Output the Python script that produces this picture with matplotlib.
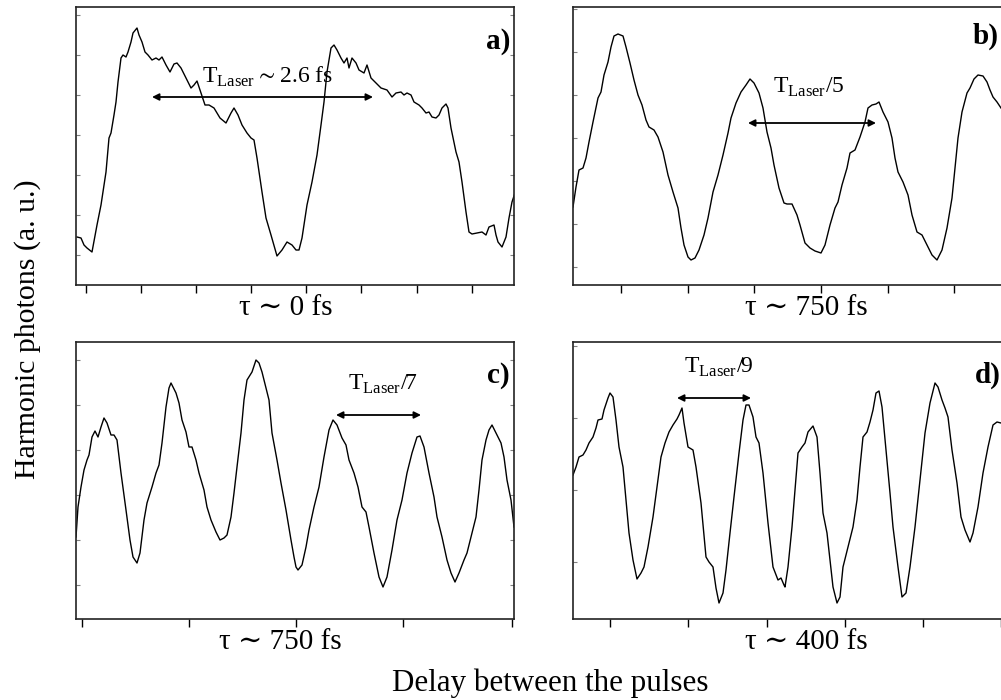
# -*- coding: utf-8 -*-
"""
Harmonic photon yield vs. delay between the pulses, four panels a)-d)
"""
import matplotlib.pyplot as plt

plt.rcParams['font.family'] = ['Liberation Serif', 'DejaVu Serif']
plt.rcParams['mathtext.fontset'] = 'custom'
plt.rcParams['mathtext.rm'] = 'Liberation Serif'
plt.rcParams['mathtext.fallback'] = 'stix'
#-----------------------------------------------------------------------------
# traces (delay in arbitrary units, signal in a. u.)

delay_a = [1, 5, 8, 11, 16, 21, 25, 30, 33, 35, 38, 40, 42, 45, 47, 50, 52, 55,
           57, 61, 63, 66, 69, 72, 76, 80, 83, 86, 90, 94, 98, 101, 105, 110,
           115, 118, 121, 124, 129, 133, 138, 144, 150, 155, 158, 162, 166, 171,
           175, 178, 181, 186, 190, 195, 201, 206, 211, 216, 220, 223, 226, 231,
           236, 241, 245, 248, 251, 255, 258, 261, 265, 268, 271, 273, 276, 280,
           283, 288, 291, 295, 305, 311, 316, 320, 325, 328, 331, 335, 338, 343,
           346, 350, 353, 356, 360, 363, 366, 370, 372, 375, 380, 383, 386, 390,
           393, 396, 401, 406, 410, 413, 418, 420, 422, 426, 430, 433, 436, 440]
signal_a = [48, 47, 40, 37, 33, 60, 80, 113, 147, 152, 170, 183, 203, 227, 230,
            228, 233, 243, 252, 257, 250, 243, 233, 230, 225, 227, 225, 228, 220,
            213, 221, 222, 217, 207, 197, 200, 204, 195, 180, 180, 177, 167, 162,
            172, 177, 170, 160, 152, 147, 145, 127, 93, 67, 50, 29, 35, 43, 40,
            35, 35, 47, 80, 103, 130, 160, 183, 213, 237, 240, 235, 227, 222, 227,
            217, 227, 222, 215, 212, 220, 207, 197, 195, 188, 192, 193, 190, 192,
            190, 183, 180, 177, 172, 173, 168, 167, 170, 177, 181, 177, 157, 133,
            123, 103, 73, 53, 51, 52, 53, 50, 58, 60, 50, 43, 38, 48, 67, 83, 95]

delay_b = [0, 3, 6, 10, 13, 16, 20, 25, 28, 31, 35, 38, 41, 45, 50, 53, 57, 61,
           65, 69, 73, 76, 81, 85, 90, 95, 100, 105, 108, 111, 115, 118, 122, 126,
           131, 135, 140, 145, 150, 155, 158, 163, 168, 173, 177, 181, 186, 190,
           194, 198, 201, 206, 211, 214, 219, 224, 227, 232, 237, 242, 248, 252,
           257, 262, 265, 269, 274, 277, 282, 287, 292, 295, 299, 303, 306, 310,
           315, 319, 322, 325, 330, 335, 339, 344, 349, 354, 359, 364, 369, 374,
           379, 382, 385, 389, 394, 397, 401, 405, 410, 414, 417, 420, 424, 428]
signal_b = [78, 98, 115, 117, 127, 143, 163, 187, 193, 210, 223, 238, 249, 251,
            249, 238, 222, 205, 190, 180, 165, 158, 155, 148, 133, 110, 93, 77, 57,
            40, 28, 25, 27, 35, 50, 67, 93, 110, 130, 152, 167, 182, 193, 200, 206,
            202, 192, 177, 153, 137, 120, 97, 82, 81, 81, 70, 60, 42, 37, 34, 32,
            40, 60, 77, 83, 100, 117, 132, 135, 148, 163, 177, 180, 181, 183, 173,
            163, 147, 127, 113, 103, 90, 70, 53, 50, 40, 30, 25, 35, 57, 87, 117,
            147, 173, 192, 197, 206, 210, 209, 203, 195, 188, 183, 177]

delay_c = [0, 2, 5, 8, 11, 13, 16, 19, 22, 25, 28, 31, 35, 38, 41, 45, 50, 54,
           57, 61, 64, 68, 71, 76, 80, 83, 86, 90, 93, 95, 100, 103, 106, 110,
           113, 116, 120, 123, 128, 131, 135, 140, 144, 148, 151, 155, 158, 161,
           165, 168, 171, 176, 180, 183, 186, 190, 193, 196, 201, 205, 210, 215,
           218, 220, 222, 226, 230, 233, 238, 243, 248, 253, 257, 261, 266, 270,
           273, 278, 282, 286, 290, 293, 298, 303, 307, 311, 316, 321, 326, 331,
           336, 341, 344, 348, 353, 358, 361, 366, 371, 375, 379, 383, 388, 391,
           396, 400, 403, 406, 410, 413, 416, 420, 425, 428, 431, 435, 438]
signal_c = [82, 112, 132, 149, 159, 164, 182, 188, 182, 192, 201, 196, 184, 184,
            179, 146, 109, 79, 62, 56, 66, 99, 116, 132, 146, 154, 176, 212, 231,
            236, 226, 216, 199, 187, 172, 172, 159, 146, 129, 112, 99, 87, 79, 81,
            84, 102, 126, 152, 186, 219, 239, 247, 259, 256, 247, 231, 219, 186,
            159, 136, 109, 79, 62, 52, 49, 54, 72, 89, 112, 132, 162, 189, 199,
            194, 181, 174, 159, 146, 132, 112, 107, 92, 66, 42, 32, 42, 69, 99,
            119, 146, 166, 182, 183, 172, 146, 122, 102, 82, 59, 46, 37, 46, 59,
            66, 86, 102, 129, 159, 179, 189, 194, 186, 176, 162, 139, 119, 92]

delay_d = [0, 3, 6, 10, 13, 16, 20, 23, 25, 29, 31, 35, 37, 40, 43, 46, 50, 53,
           56, 60, 64, 68, 71, 75, 80, 84, 88, 92, 96, 100, 104, 106, 109, 111,
           115, 120, 123, 128, 133, 136, 140, 143, 146, 150, 153, 157, 161, 166,
           170, 173, 176, 180, 183, 186, 190, 195, 200, 205, 208, 211, 212, 215,
           219, 222, 225, 229, 232, 235, 240, 244, 247, 250, 254, 257, 260, 264,
           267, 270, 275, 280, 284, 287, 290, 294, 297, 300, 303, 306, 309, 313,
           317, 320, 325, 329, 333, 337, 342, 347, 352, 357, 362, 365, 369, 372,
           375, 379, 384, 388, 392, 397, 400, 405, 410, 415, 420, 424, 428]
signal_d = [144, 152, 162, 164, 169, 176, 182, 191, 199, 200, 209, 221, 226, 222,
            199, 172, 152, 119, 86, 59, 40, 46, 52, 72, 102, 132, 162, 176, 187,
            194, 200, 204, 211, 196, 172, 169, 152, 116, 62, 57, 52, 31, 16, 26,
            49, 86, 122, 166, 199, 214, 214, 202, 182, 176, 146, 96, 52, 39, 41,
            34, 32, 52, 92, 129, 166, 172, 176, 187, 193, 182, 146, 106, 86, 59,
            32, 16, 22, 52, 72, 92, 119, 152, 182, 187, 197, 209, 226, 228, 212,
            169, 126, 92, 52, 22, 26, 52, 92, 139, 186, 216, 236, 232, 219, 211,
            202, 169, 136, 102, 89, 77, 86, 112, 146, 172, 194, 197, 196]

labels = ['a)', 'b)', 'c)', 'd)']
delays_tau = ['τ ∼ 0 fs', 'τ ∼ 750 fs', 'τ ∼ 750 fs', 'τ ∼ 400 fs']
period_text = [r'T$_\mathrm{Laser}\sim$2.6 fs', r'T$_\mathrm{Laser}$/5',
               r'T$_\mathrm{Laser}$/7', r'T$_\mathrm{Laser}$/9']
#-----------------------------------------------------------------------------

W, H = 1001, 700
fig = plt.figure(figsize=(W / 100, H / 100), dpi=100)


def box(l, t, r, b):
    return [l / W, 1 - b / H, (r - l) / W, (b - t) / H]


ax_a = fig.add_axes(box(76, 7, 514, 285))
ax_b = fig.add_axes(box(573, 7, 1011, 285))
ax_c = fig.add_axes(box(76, 342, 514, 619))
ax_d = fig.add_axes(box(573, 342, 1011, 619))

panels = [
    (ax_a, delay_a, signal_a, 278, [10, 65, 120, 175, 230, 285, 341, 396], range(30, 278, 40)),
    (ax_b, delay_b, signal_b, 278, [48, 115, 181, 248, 315, 381], range(18, 278, 43)),
    (ax_c, delay_c, signal_c, 277, [6, 113, 220, 327, 436], range(34, 277, 45)),
    (ax_d, delay_d, signal_d, 277, [37, 115, 194, 272, 350, 428], range(57, 277, 72)),
]

for ax, x, y, top, xt, yt in panels:
    ax.plot(x, y, color='black', lw=1.0)
    ax.set_xlim(0, 438)
    ax.set_ylim(0, top)
    ax.set_xticks(xt)
    ax.set_yticks(list(yt))
    ax.tick_params(axis='x', bottom=True, top=False, direction='out',
                   length=6, width=1.0, color='black', labelbottom=False)
    ax.tick_params(axis='y', left=True, right=True, direction='in', length=3,
                   width=0.8, color='0.5', labelleft=False)
    for s in ax.spines.values():
        s.set_linewidth(1.2)
        s.set_color('#222222')

# panel tags
ax_a.text(434, 257, labels[0], ha='right', va='top', fontsize=21, fontweight='bold')
ax_b.text(400, 262, labels[1], ha='left', va='top', fontsize=21, fontweight='bold')
ax_c.text(434, 257, labels[2], ha='right', va='top', fontsize=21, fontweight='bold')
ax_d.text(402, 257, labels[3], ha='left', va='top', fontsize=21, fontweight='bold')

# period arrows and their labels
arrow = dict(arrowstyle='<|-|>', lw=1.3, color='black', mutation_scale=10,
             shrinkA=0, shrinkB=0)
ax_a.annotate('', xy=(76, 188), xytext=(297, 188), arrowprops=arrow)
ax_a.text(126, 202, period_text[0], ha='left', va='baseline', fontsize=17)
ax_b.annotate('', xy=(175, 162), xytext=(303, 162), arrowprops=arrow)
ax_b.text(200, 192, period_text[1], ha='left', va='baseline', fontsize=17)
ax_c.annotate('', xy=(260, 204), xytext=(345, 204), arrowprops=arrow)
ax_c.text(272, 229, period_text[2], ha='left', va='baseline', fontsize=17)
ax_d.annotate('', xy=(104, 221), xytext=(178, 221), arrowprops=arrow)
ax_d.text(111, 246, period_text[3], ha='left', va='baseline', fontsize=17)

# delay captions under each panel
fig.text(286 / W, 1 - 308 / H, delays_tau[0], ha='center', va='center', fontsize=21)
fig.text(806 / W, 1 - 308 / H, delays_tau[1], ha='center', va='center', fontsize=21)
fig.text(280 / W, 1 - 642 / H, delays_tau[2], ha='center', va='center', fontsize=21)
fig.text(806 / W, 1 - 642 / H, delays_tau[3], ha='center', va='center', fontsize=21)

fig.text(550 / W, 1 - 683 / H, 'Delay between the pulses', ha='center', va='center',
         fontsize=22.3)
fig.text(28 / W, 1 - 329 / H, 'Harmonic photons (a. u.)', ha='center', va='center',
         rotation=90, fontsize=21.5)

fig.savefig('out.png', dpi=100)
